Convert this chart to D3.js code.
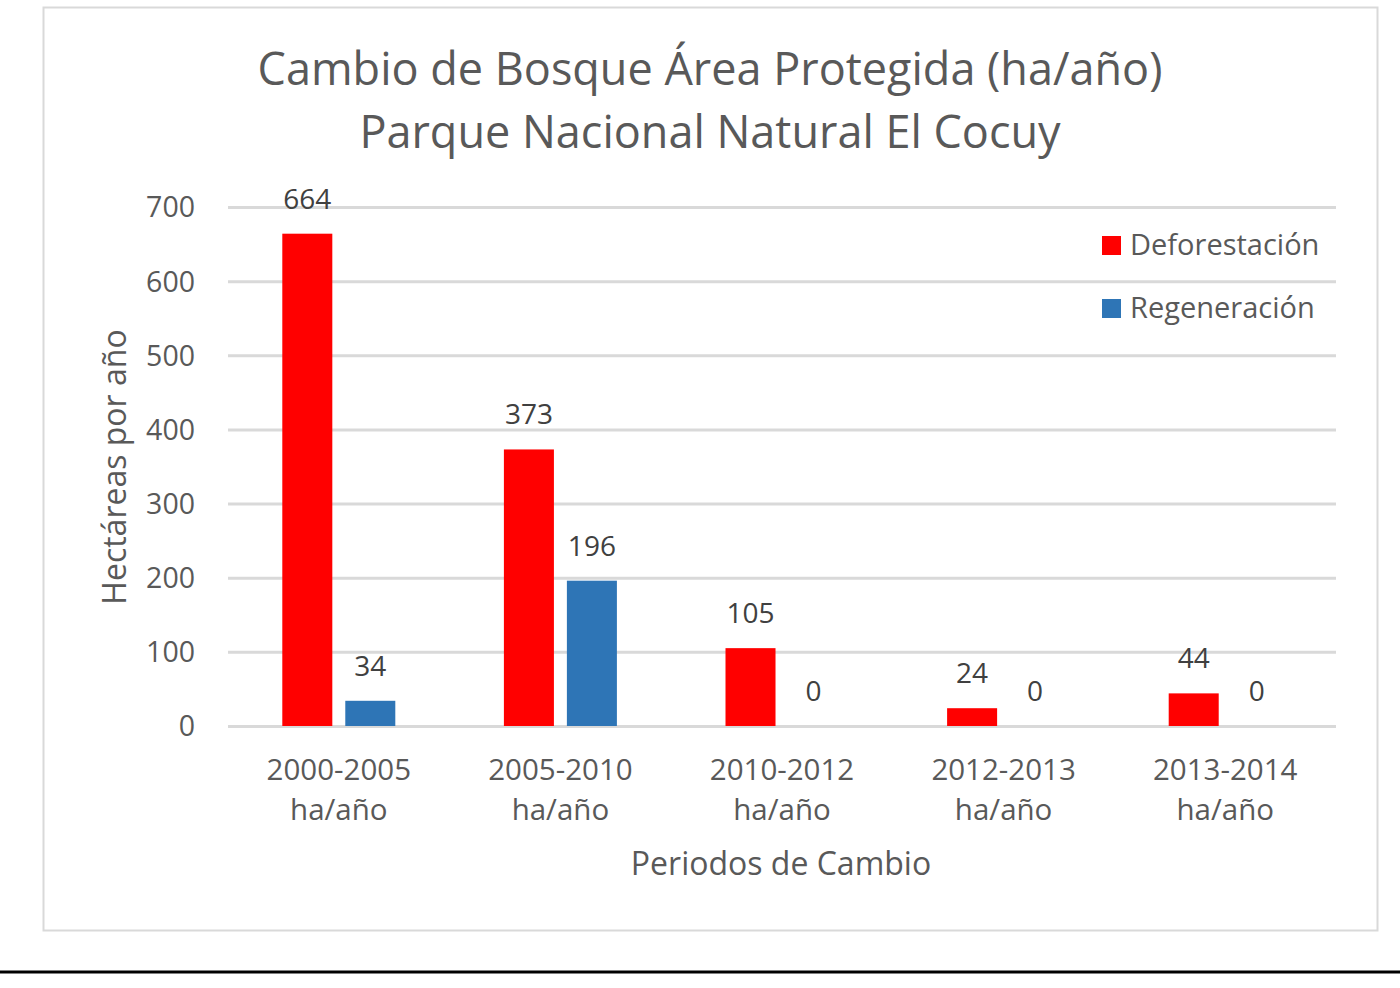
<!DOCTYPE html>
<html lang="es">
  <head>
    <meta charset="utf-8">
    <title>Cambio de Bosque</title>
    <script type="text/javascript" src="https://cdn.jsdelivr.net/npm/d3@7"></script>
    <style>
      body { margin: 0; background: #fff; }
      svg text { font-family: "Open Sans", sans-serif; }
      .axis path, .axis line { display: none; }
      .grid line { stroke: #d9d9d9; stroke-width: 3; }
      .grid path { display: none; }
    </style>
  </head>
  <body>
    <script type="text/javascript">

      var w = 1400;
      var h = 988;

      var periodos = ["2000-2005", "2005-2010", "2010-2012", "2012-2013", "2013-2014"];
      var series = ["Deforestación", "Regeneración"];
      var deforestacion = [664, 373, 105, 24, 44];
      var regeneracion = [34, 196, 0, 0, 0];
      var yTicks = [0, 100, 200, 300, 400, 500, 600, 700];
      var colores = ["#ff0000", "#2e75b6"];

      var mySvg = d3.select("body")
                    .append("svg")
                    .attr("width", w)
                    .attr("height", h);

      // marco del grafico
      mySvg.append("rect")
           .attr("x", 43.5).attr("y", 7.5)
           .attr("width", 1334).attr("height", 923)
           .attr("fill", "#fff")
           .attr("stroke", "#d9d9d9")
           .attr("stroke-width", 2);

      mySvg.append("line")
           .attr("x1", 0).attr("x2", w)
           .attr("y1", 972).attr("y2", 972)
           .attr("stroke", "#000")
           .attr("stroke-width", 3);

      var plotLeft = 228, plotRight = 1336, plotTop = 207, plotBottom = 726;

      var xScale = d3.scaleBand()
                     .domain(periodos)
                     .range([plotLeft, plotRight]);

      var xSub = d3.scaleBand()
                   .domain(series)
                   .range([xScale.bandwidth() / 2 - 56.5, xScale.bandwidth() / 2 + 56.5])
                   .paddingInner(0.206);

      var yScale = d3.scaleLinear()
                     .domain([0, 700])
                     .range([plotBottom, plotTop]);

      // lineas de cuadricula
      mySvg.append("g")
           .attr("class", "grid")
           .attr("transform", "translate(" + plotLeft + ",0)")
           .call(d3.axisLeft(yScale).tickValues(yTicks).tickSize(-(plotRight - plotLeft)).tickFormat(""));

      var yAxis = mySvg.append("g")
           .attr("class", "axis")
           .attr("transform", "translate(" + (plotLeft - 30) + ",0)")
           .call(d3.axisLeft(yScale).tickValues(yTicks).tickSize(0));
      yAxis.selectAll("text")
           .attr("font-size", "28.5px")
           .attr("font-family", "Open Sans")
           .attr("fill", "#595959")
           .attr("dy", "0.35em");

      var tabla = periodos.map(function(p, i) {
        return { periodo: p, valores: [deforestacion[i], regeneracion[i]] };
      });

      var grupos = mySvg.selectAll("g.grupo")
            .data(tabla)
            .enter()
            .append("g")
            .attr("class", "grupo")
            .attr("transform", function(d) { return "translate(" + xScale(d.periodo) + ",0)"; });

      grupos.selectAll("rect")
            .data(function(d) { return d.valores.map(function(v, j) { return { s: series[j], v: v, j: j }; }); })
            .enter()
            .append("rect")
            .attr("x", function(d) { return xSub(d.s); })
            .attr("y", function(d) { return yScale(d.v); })
            .attr("width", xSub.bandwidth())
            .attr("height", function(d) { return yScale(0) - yScale(d.v); })
            .attr("fill", function(d) { return colores[d.j]; });

      grupos.selectAll("text.valor")
            .data(function(d) { return d.valores.map(function(v, j) { return { s: series[j], v: v }; }); })
            .enter()
            .append("text")
            .attr("class", "valor")
            .attr("x", function(d) { return xSub(d.s) + xSub.bandwidth() / 2; })
            .attr("y", function(d) { return yScale(d.v) - 25; })
            .attr("text-anchor", "middle")
            .attr("font-size", "28px")
            .attr("fill", "#404040")
            .text(function(d) { return d.v; });

      // etiquetas de categorias
      var xAxis = mySvg.append("g")
           .attr("class", "axis")
           .attr("transform", "translate(0," + plotBottom + ")")
           .call(d3.axisBottom(xScale).tickSize(0));
      xAxis.selectAll("text").remove();
      xAxis.selectAll(".tick")
           .append("text")
           .attr("text-anchor", "middle")
           .attr("font-size", "29.5px")
           .attr("font-family", "Open Sans")
           .attr("fill", "#595959")
           .selectAll("tspan")
           .data(function(d) { return [d, "ha/año"]; })
           .enter()
           .append("tspan")
           .attr("x", 0)
           .attr("y", function(d, i) { return 54 + i * 40; })
           .text(function(d) { return d; });

      // titulos
      mySvg.append("text")
           .attr("x", 710).attr("y", 85)
           .attr("text-anchor", "middle")
           .attr("font-size", "45px")
           .attr("fill", "#595959")
           .text("Cambio de Bosque Área Protegida (ha/año)");
      mySvg.append("text")
           .attr("x", 710).attr("y", 148)
           .attr("text-anchor", "middle")
           .attr("font-size", "45px")
           .attr("fill", "#595959")
           .text("Parque Nacional Natural El Cocuy");

      mySvg.append("text")
           .attr("x", 781).attr("y", 875)
           .attr("text-anchor", "middle")
           .attr("font-size", "32px")
           .attr("fill", "#595959")
           .text("Periodos de Cambio");

      mySvg.append("text")
           .attr("transform", "translate(126,467) rotate(-90)")
           .attr("text-anchor", "middle")
           .attr("font-size", "32px")
           .attr("fill", "#595959")
           .text("Hectáreas por año");

      // leyenda
      var leyenda = mySvg.selectAll("g.leyenda")
            .data(series)
            .enter()
            .append("g")
            .attr("class", "leyenda")
            .attr("transform", function(d, i) { return "translate(1102," + (236 + i * 63) + ")"; });
      leyenda.append("rect")
             .attr("width", 19).attr("height", 19)
             .attr("fill", function(d, i) { return colores[i]; });
      leyenda.append("text")
             .attr("x", 28).attr("y", 19)
             .attr("font-size", "29px")
             .attr("fill", "#595959")
             .text(function(d) { return d; });

    </script>
  </body>
</html>
